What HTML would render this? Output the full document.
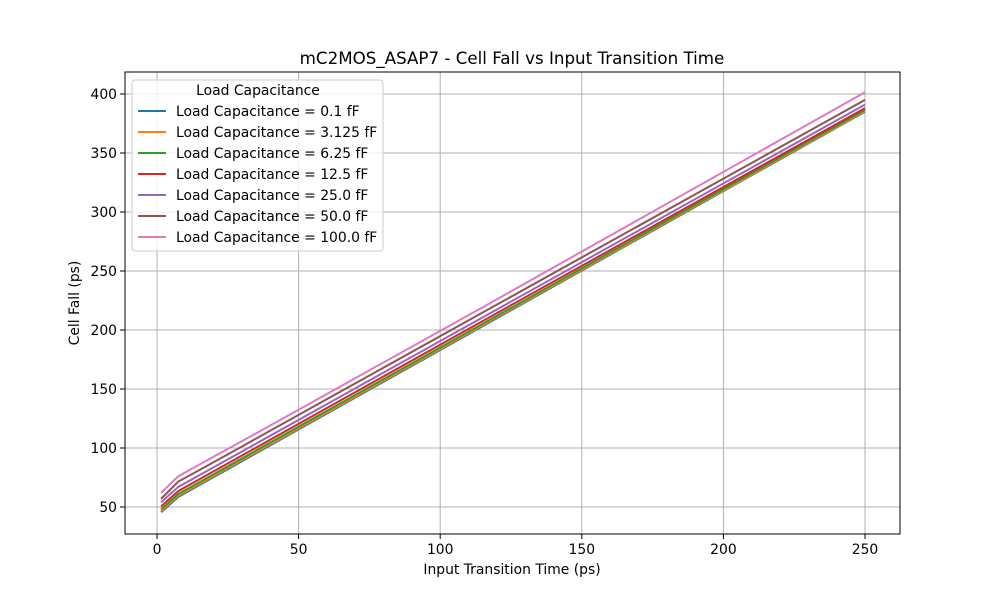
<!DOCTYPE html>
<html><head><meta charset="utf-8"><style>
body{margin:0;background:#fff;font-family:"DejaVu Sans","Liberation Sans",sans-serif}
</style></head><body>
<svg id="c" width="1000" height="600" xmlns="http://www.w3.org/2000/svg" font-family="DejaVu Sans, Liberation Sans, sans-serif"></svg>
<script>
const xVals=[1.44,7.5,15,30,60,120,250];
const seriesNames=["Load Capacitance = 0.1 fF","Load Capacitance = 3.125 fF","Load Capacitance = 6.25 fF","Load Capacitance = 12.5 fF","Load Capacitance = 25.0 fF","Load Capacitance = 50.0 fF","Load Capacitance = 100.0 fF"];
const s0=[45.5,58.5,68.6,88.8,129.2,210,385];
const s1=[46.5,59.5,69.6,89.8,130.1,210.8,385.5];
const s2=[48,61,71,91.2,131.5,212,386.5];
const s3=[50.5,63.5,73.5,93.6,133.9,214.3,388];
const s4=[54,67,77,97,137.2,217.4,391];
const s5=[57,71.5,81.4,101.3,141.4,221.5,395];
const s6=[62,76,86,105.8,145.8,226,401.5];
const xTicks=[0,50,100,150,200,250];
const yTicks=[50,100,150,200,250,300,350,400];
const colors=["#1f77b4","#ff7f0e","#2ca02c","#d62728","#9467bd","#8c564b","#e377c2"];
const allSeries=[s0,s1,s2,s3,s4,s5,s6];
const L=125,R=900,T=72,B=534;
const X=v=>157+(v-0)*(865-157)/250;
const Y=v=>507-(v-50)*(507-94)/350;
const svg=document.getElementById('c');
const NS="http://www.w3.org/2000/svg";
function mk(t,a,p){const e=document.createElementNS(NS,t);for(const k in a)e.setAttribute(k,a[k]);(p||svg).appendChild(e);return e;}
xTicks.forEach(t=>{const g=mk('line',{x1:X(t),x2:X(t),y1:T,y2:B,stroke:'#b0b0b0','stroke-width':1});


const tk=mk('line',{x1:X(t),x2:X(t),y1:B,y2:B+5,stroke:'#000','stroke-width':1});


const tx=mk('text',{x:X(t),y:B+20,'font-size':13.9,'text-anchor':'middle'});tx.textContent=t;

});
yTicks.forEach(t=>{const g=mk('line',{x1:L,x2:R,y1:Y(t),y2:Y(t),stroke:'#b0b0b0','stroke-width':1});


const tk=mk('line',{x1:L-5,x2:L,y1:Y(t),y2:Y(t),stroke:'#000','stroke-width':1});


const tx=mk('text',{x:L-8,y:Y(t)+5,'font-size':13.9,'text-anchor':'end'});tx.textContent=t;

});
allSeries.forEach((s,i)=>{const p=mk('polyline',{points:s.map((v,j)=>X(xVals[j])+','+Y(v)).join(' '),fill:'none',stroke:colors[i],'stroke-width':2});

});
const fr=mk('rect',{x:L,y:T,width:R-L,height:B-T,fill:'none',stroke:'#000','stroke-width':1});


const ti=mk('text',{x:512,y:64,'font-size':16.7,'text-anchor':'middle'});ti.textContent="mC2MOS_ASAP7 - Cell Fall vs Input Transition Time";


const xt=mk('text',{x:512,y:574,'font-size':13.9,'text-anchor':'middle'});xt.textContent="Input Transition Time (ps)";


const yt=mk('text',{x:79,y:303,'font-size':13.9,'text-anchor':'middle',transform:'rotate(-90 79 303)'});yt.textContent="Cell Fall (ps)";


const lg=mk('g',{});


mk('rect',{x:132,y:80,width:251,height:171,rx:3,fill:'#fff','fill-opacity':0.8,stroke:'#ccc'},lg);
const lt=mk('text',{x:258,y:95,'font-size':13.9,'text-anchor':'middle'},lg);lt.textContent="Load Capacitance";
seriesNames.forEach((n,i)=>{const g=mk('g',{},lg);


const y=111+i*21;
mk('line',{x1:138,x2:166,y1:y,y2:y,stroke:colors[i],'stroke-width':2},g);
const t=mk('text',{x:176,y:y+5,'font-size':13.9},g);t.textContent=n;});
</script>
</body></html>
